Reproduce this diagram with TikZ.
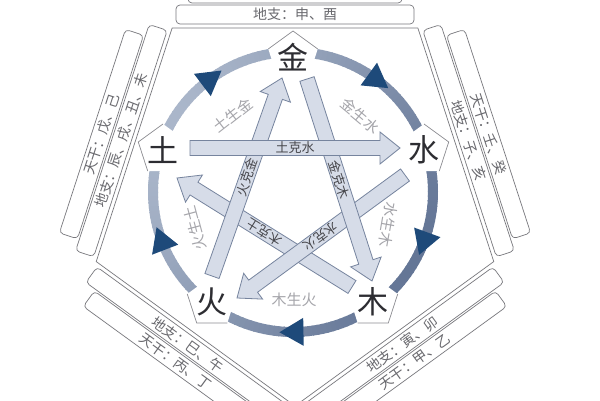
\documentclass[tikz,border=0pt]{standalone}
\usepackage{fontspec}
\newfontfamily\cjk{Noto Sans CJK SC}
\usetikzlibrary{calc,shapes.geometric}
\definecolor{navy}{RGB}{30,74,122}
\definecolor{arrfill}{RGB}{214,220,232}
\definecolor{arrline}{RGB}{118,132,158}
\definecolor{stripline}{RGB}{120,120,125}
\definecolor{striptext}{RGB}{105,105,110}
\definecolor{ringL}{RGB}{170,182,202}
\definecolor{ringD}{RGB}{100,118,150}
\definecolor{badgegray}{RGB}{140,140,145}
\definecolor{elemtext}{RGB}{45,45,50}
\definecolor{ketext}{RGB}{70,70,75}
\definecolor{shengtext}{RGB}{165,165,170}
\tikzset{
 strip/.style={draw=stripline, line width=0.7pt, rounded corners=4pt, minimum height=19pt, inner sep=0pt, text=striptext, font=\cjk\fontsize{14}{14}\selectfont},
 badge/.style={regular polygon, regular polygon sides=5, minimum size=52pt, inner sep=0pt, fill=white, draw=none},
 badgeline/.style={draw=badgegray, line width=0.7pt},
 elem/.style={text=elemtext, font=\cjk\fontsize{31}{31}\selectfont, inner sep=0pt},
 kearr/.style={fill=arrfill, draw=arrline, line width=0.8pt, line join=miter},
 kelabel/.style={text=ketext, font=\cjk\fontsize{13}{13}\selectfont, inner sep=0pt},
 sheng/.style={text=shengtext, font=\cjk\fontsize{15}{15}\selectfont, inner sep=0pt},
}
\newcommand{\kearrow}[5]{%
  \coordinate (#1h) at ($(#2)!20pt!(#1)$);
  \filldraw[kearr] ($(#1)!7.5pt!90:(#2)$) -- ($(#1h)!7.5pt!90:(#2)$) -- ($(#1h)!16pt!90:(#2)$) -- (#2)
     -- ($(#1h)!16pt!-90:(#2)$) -- ($(#1h)!7.5pt!-90:(#2)$) -- ($(#1)!7.5pt!-90:(#2)$) -- cycle;
  \node[kelabel, rotate=#4] (#5) at ($(#1)!0.5!(#2)$) {#3};
}
\newcommand{\chevron}[4]{%
  \draw[badgeline] ($(#1)+(#2:26)$) -- ($(#1)+(#3:26)$) -- ($(#1)+(#4:26)$);
}
\begin{document}
\begin{tikzpicture}[x=1pt,y=1pt]
\useasboundingbox (0,0) rectangle (600,400);
\clip (0,0) rectangle (600,400);
\fill[white] (0,0) rectangle (600,400);

% outer pentagon
\coordinate (P) at (295,203);
\draw[stripline, line width=0.7pt] ($(P)+(54:209)$) -- ($(P)+(126:209)$) -- ($(P)+(198:209)$) -- ($(P)+(270:209)$) -- ($(P)+(342:209)$) -- cycle;

% strips
\node[strip, minimum width=238pt, rotate=0]   (s1i) at ($(P)+(90:182.5)$) {地支：申、酉};
\node[strip, minimum width=214pt, rotate=0]   (s1o) at ($(P)+(90:203.5)$) {天干：庚、辛};
\node[strip, minimum width=238pt, rotate=-72] (s2i) at ($(P)+(18:182.5)$) {地支：子、亥};
\node[strip, minimum width=214pt, rotate=-72] (s2o) at ($(P)+(18:203.5)$) {天干：壬、癸};
\node[strip, minimum width=238pt, rotate=36]  (s3i) at ($(P)+(-54:182.5)$) {地支：寅、卯};
\node[strip, minimum width=214pt, rotate=36]  (s3o) at ($(P)+(-54:203.5)$) {天干：甲、乙};
\node[strip, minimum width=238pt, rotate=-36] (s4i) at ($(P)+(234:182.5)$) {地支：巳、午};
\node[strip, minimum width=214pt, rotate=-36] (s4o) at ($(P)+(234:203.5)$) {天干：丙、丁};
\node[strip, minimum width=238pt, rotate=72]  (s5i) at ($(P)+(162:182.5)$) {地支：辰、戌、丑、未};
\node[strip, minimum width=214pt, rotate=72]  (s5o) at ($(P)+(162:203.5)$) {天干：戊、己};

% ring
\coordinate (O) at (293,208);
\foreach \a in {0,2,...,358}{
  \pgfmathsetmacro\p{50+50*cos(\a-150)}
  \draw[line width=10pt, color=ringL!\p!ringD] ($(O)+(\a:140)$) arc[start angle=\a, end angle=\a+2.5, radius=140];
}
\foreach \q in {127,54,-20,-89,201}{
  \pgfmathsetmacro\d{\q-90}
  \fill[navy] ($(O)+(\q:140)+(\d:16)$) -- ($(O)+(\q:140)+(\d+180:8)+(\d+90:14)$) -- ($(O)+(\q:140)+(\d+180:8)+(\d-90:14)$) -- cycle;
}

% badges
\node[badge] (jinB)  at (293,343) {};
\node[badge] (shuiB) at (424,250) {};
\node[badge] (muB)   at (373,98) {};
\node[badge] (huoB)  at (212,98) {};
\node[badge] (tuB)   at (163,250) {};
\chevron{jinB}{18}{90}{162}
\chevron{shuiB}{-54}{18}{90}
\chevron{muB}{234}{306}{378}
\chevron{huoB}{162}{234}{306}
\chevron{tuB}{90}{162}{234}

% sheng labels
\node[sheng, rotate=38]   (sg1) at (233,285) {土生金};
\node[sheng, rotate=-40]  (sg2) at (360,284) {金生水};
\node[sheng, rotate=-100] (sg3) at (388,175) {水生木};
\node[sheng]              (sg4) at (294,100) {木生火};
\node[sheng, rotate=105]  (sg5) at (195,172) {火生土};

% ke arrows
\coordinate (k1s) at (190,252); \coordinate (k1e) at (400,252);
\coordinate (k2s) at (212,124); \coordinate (k2e) at (282,322);
\coordinate (k3s) at (307,321); \coordinate (k3e) at (372,119);
\coordinate (k4s) at (352,113); \coordinate (k4e) at (177,222);
\coordinate (k5s) at (405,225); \coordinate (k5e) at (237,102);
\kearrow{k4s}{k4e}{木克土}{148}{kl4}
\kearrow{k5s}{k5e}{水克火}{216}{kl5}
\kearrow{k3s}{k3e}{金克木}{-72}{kl3}
\kearrow{k2s}{k2e}{火克金}{70.5}{kl2}
\kearrow{k1s}{k1e}{土克水}{0}{kl1}

% element characters
\node[elem] (jin)  at (jinB)  {金};
\node[elem] (shui) at (shuiB) {水};
\node[elem] (mu)   at (muB)   {木};
\node[elem] (huo)  at (huoB)  {火};
\node[elem] (tu)   at (tuB)   {土};
\end{tikzpicture}
\end{document}
